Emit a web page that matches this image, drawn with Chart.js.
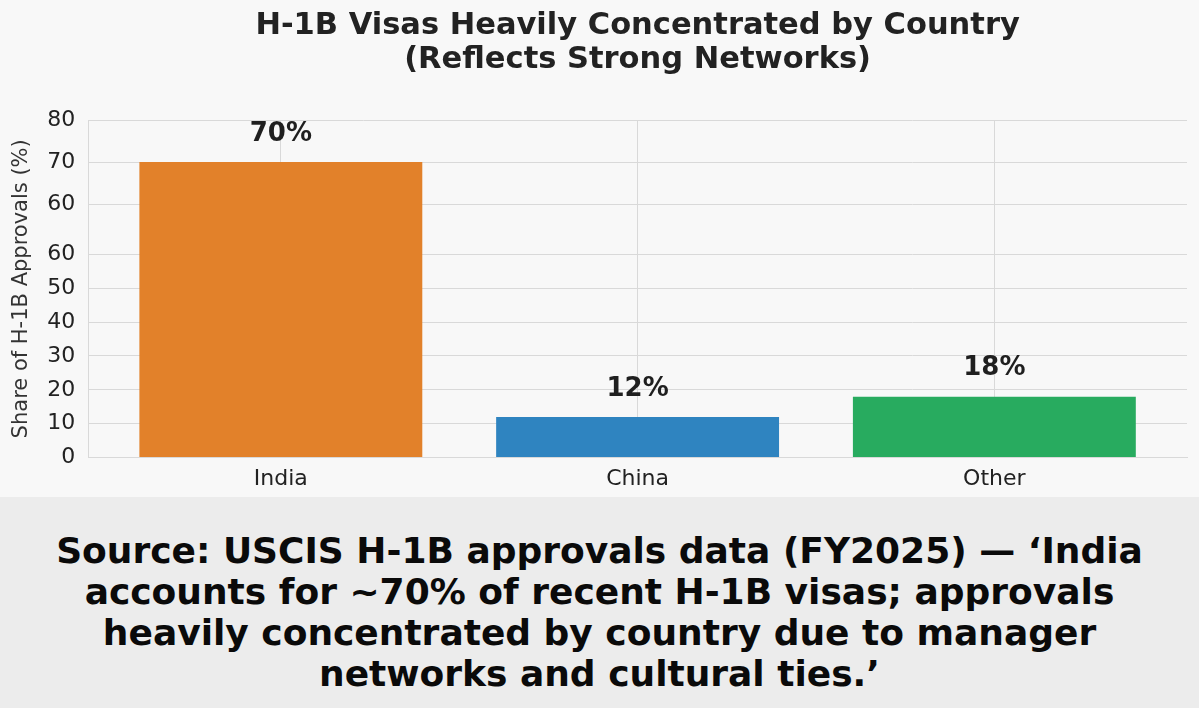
<!DOCTYPE html>
<html>
<head>
<meta charset="utf-8">
<script src="https://cdn.jsdelivr.net/npm/chart.js@4"></script>
<style>
  html, body { margin: 0; padding: 0; background: #f8f8f8; }
  #wrap { width: 1199px; height: 500px; position: relative; background: #f8f8f8; }
  #caption {
    position: relative; margin-top: -3px;
    width: 1199px; height: 211px; box-sizing: border-box;
    background: #ececec; padding-top: 33px;
    font-family: "DejaVu Sans", sans-serif; font-weight: bold;
    font-size: 36px; line-height: 41px; color: #0a0a0a; text-align: center;
  }
</style>
</head>
<body>
<div id="wrap"><canvas id="chart"></canvas></div>
<div id="caption">Source: USCIS H-1B approvals data (FY2025) — ‘India<br>accounts for ~70% of recent H-1B visas; approvals<br>heavily concentrated by country due to manager<br>networks and cultural ties.’</div>
<script>
// data
let countries = ['India', 'China', 'Other'];
let shares = [70, 12, 18];
let barColors = ['#e2812a', '#2f84c0', '#28ab5f'];
// the y axis in the picture is broken: 60 appears twice
let yTicks = [0, 10, 20, 30, 40, 50, 60, 60, 70, 80];
let yBreak = 60;

// linear scale with a gap above the break value
class BrokenLinearScale extends Chart.LinearScale {
  static id = 'brokenLinear';
  static defaults = {};

  toDecimal(v, upper) {
    let b = this.options.gap;
    if (v < yBreak || (v === yBreak && !upper)) {
      return (v - this.min) / (yBreak - this.min) * b.lowEnd;
    }
    return b.highStart + (v - yBreak) / (this.max - yBreak) * (1 - b.highStart);
  }
  getPixelForValue(v) {
    if (v === null || v === undefined) return NaN;
    return this.getPixelForDecimal(this.toDecimal(v, false));
  }
  getPixelForTick(i) {
    let t = this.ticks[i];
    if (!t) return null;
    return this.getPixelForDecimal(this.toDecimal(t.value, t.upper));
  }
  getValueForPixel(p) {
    let b = this.options.gap;
    let d = this.getDecimalForPixel(p);
    if (d <= b.lowEnd) return this.min + d / b.lowEnd * (yBreak - this.min);
    return yBreak + (d - b.highStart) / (1 - b.highStart) * (this.max - yBreak);
  }
  buildTicks() {
    let seen = false;
    return yTicks.map(v => {
      let upper = v > yBreak || (v === yBreak && seen);
      if (v === yBreak) seen = true;
      return { value: v, upper: upper };
    });
  }
}
Chart.register(BrokenLinearScale);

// percent labels over the bars
let barLabels = {
  id: 'barLabels',
  afterDatasetsDraw(chart) {
    let ctx = chart.ctx;
    let meta = chart.getDatasetMeta(0);
    ctx.save();
    ctx.font = 'bold 26px "DejaVu Sans"';
    ctx.fillStyle = '#1f1f1f';
    ctx.textAlign = 'center';
    ctx.textBaseline = 'middle';
    meta.data.forEach((bar, i) => {
      ctx.fillText(shares[i] + '%', bar.x, bar.y - 28);
    });
    ctx.restore();
  }
};

let gridColor = '#d9d9d9';

new Chart(document.getElementById('chart'), {
  type: 'bar',
  data: {
    datasets: [{
      data: countries.map((c, i) => ({ x: i, y: shares[i] })),
      backgroundColor: barColors,
      borderWidth: 0,
      barPercentage: 0.793,
      categoryPercentage: 1
    }]
  },
  options: {
    responsive: true,
    maintainAspectRatio: false,
    animation: false,
    events: [],
    layout: { padding: { left: 9, right: 12, bottom: 0, top: 0 } },
    plugins: {
      legend: { display: false },
      tooltip: { enabled: false },
      title: {
        display: true,
        fullSize: false,
        text: ['H-1B Visas Heavily Concentrated by Country', '(Reflects Strong Networks)'],
        color: '#222',
        font: { family: 'DejaVu Sans', size: 30.5, weight: 'bold', lineHeight: 1.115 },
        padding: { top: 9, bottom: 43 }
      }
    },
    scales: {
      x: {
        type: 'linear',
        min: -0.54,
        max: 2.54,
        offset: false,
        afterBuildTicks: axis => { axis.ticks = countries.map((c, i) => ({ value: i })); },
        ticks: {
          autoSkip: false,
          maxRotation: 0,
          callback: v => countries[v],
          color: '#222',
          font: { family: 'DejaVu Sans', size: 22 },
          padding: 8
        },
        grid: { color: gridColor, drawTicks: false, offset: false },
        border: { color: gridColor }
      },
      y: {
        type: 'brokenLinear',
        min: 0,
        max: 80,
        gap: { lowEnd: 0.602, highStart: 0.751 },
        ticks: {
          autoSkip: false,
          callback: v => String(v),
          color: '#222',
          font: { family: 'DejaVu Sans', size: 22 },
          padding: 13
        },
        grid: { color: gridColor, drawTicks: false },
        border: { color: gridColor },
        title: {
          display: true,
          text: 'Share of H-1B Approvals (%)',
          color: '#333',
          font: { family: 'DejaVu Sans', size: 21 },
          padding: { top: 0, bottom: 0 }
        }
      }
    }
  },
  plugins: [barLabels]
});
</script>
</body>
</html>
